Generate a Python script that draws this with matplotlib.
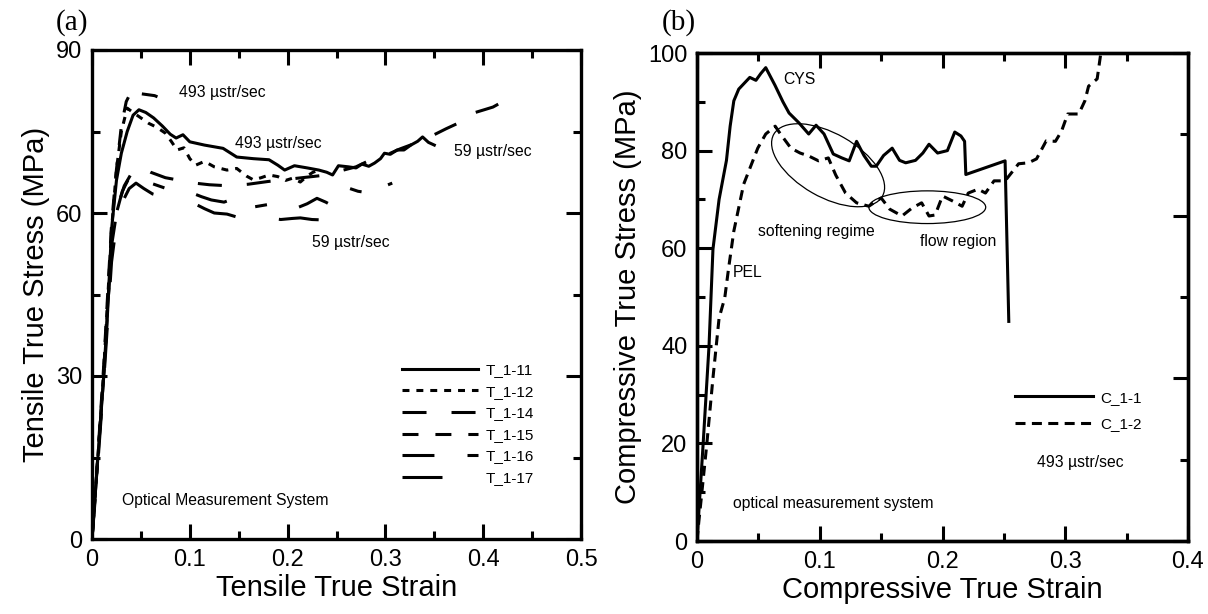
import matplotlib
matplotlib.use("Agg")
import matplotlib.pyplot as plt
from matplotlib.ticker import MultipleLocator, NullFormatter
from matplotlib.patches import Ellipse

plt.rcParams['font.family'] = ['Liberation Sans', 'DejaVu Sans']
plt.rcParams['lines.scale_dashes'] = False

# ---------------- Panel (a) data: tensile ----------------
t11_strain = [0, 0.004, 0.008, 0.012, 0.016, 0.020, 0.025, 0.030, 0.036, 0.042, 0.048, 0.055, 0.063,
              0.072, 0.080, 0.086, 0.093, 0.100, 0.115, 0.134, 0.148, 0.165, 0.181, 0.190, 0.197,
              0.207, 0.220, 0.232, 0.240, 0.246, 0.252, 0.262, 0.270, 0.276, 0.283, 0.289, 0.295,
              0.299, 0.305, 0.312, 0.319, 0.326, 0.333, 0.338, 0.344, 0.350]
t11_stress = [0, 10, 20, 30, 42, 57, 66, 71, 75, 78, 79, 78.5, 77.5,
              76, 74.5, 73.8, 74.4, 73.1, 72.5, 71.9, 70.3, 70.0, 69.8, 68.8, 67.9,
              68.7, 68.3, 67.9, 67.5, 67.0, 68.7, 68.5, 68.3, 69.0, 68.6, 69.2, 70.0,
              71.0, 70.8, 71.6, 71.6, 72.5, 73.2, 74.0, 73.0, 72.5]

t12_strain = [0, 0.004, 0.008, 0.012, 0.016, 0.020, 0.025, 0.030, 0.036, 0.042, 0.050, 0.058, 0.066,
              0.075, 0.081, 0.087, 0.094, 0.100, 0.106, 0.115, 0.125, 0.138, 0.148, 0.158, 0.165,
              0.173, 0.181, 0.190, 0.198, 0.205, 0.213, 0.220, 0.226, 0.232]
t12_stress = [0, 10, 20, 31, 44, 57, 68, 75, 79.3, 78.5, 77.5, 76.5, 75.8,
              74.7, 73.2, 71.6, 72.0, 70.0, 68.8, 69.5, 68.5, 67.9, 68.2, 66.8, 66.1,
              66.5, 67.0, 66.7, 66.0, 66.4, 65.7, 66.8, 67.5, 67.9]

t14_strain = [0, 0.004, 0.008, 0.012, 0.016, 0.020, 0.026, 0.033, 0.041, 0.050, 0.060, 0.075, 0.090,
              0.105, 0.120, 0.140, 0.160, 0.180, 0.200, 0.220, 0.240, 0.255, 0.270, 0.285, 0.300,
              0.315, 0.330, 0.345, 0.352, 0.362, 0.374, 0.378, 0.390, 0.401, 0.410, 0.417, 0.427, 0.437]
t14_stress = [0, 10, 20, 30, 42, 54, 61, 65, 67.5, 68.5, 67.5, 66.5, 66.0,
              65.5, 65.2, 65.0, 65.3, 65.8, 66.2, 66.6, 67.0, 67.8, 68.5, 69.8, 70.6,
              71.8, 72.8, 74.0, 74.6, 75.5, 76.5, 78.0, 78.4, 79.0, 79.5, 80.2, 80.6, 81.4]

t15_strain = [0, 0.004, 0.008, 0.012, 0.016, 0.020, 0.025, 0.030, 0.035, 0.040, 0.048, 0.056, 0.064,
              0.072, 0.079]
t15_stress = [0, 10, 21, 32, 45, 58, 68, 76, 80.5, 82.3, 82.0, 81.8, 81.6, 81.0, 80.5]

t16_strain = [0, 0.004, 0.008, 0.012, 0.016, 0.020, 0.025, 0.031, 0.038, 0.045, 0.052, 0.060, 0.068,
              0.076, 0.085, 0.093, 0.102, 0.112, 0.122, 0.135, 0.150, 0.158, 0.165, 0.178, 0.189,
              0.199, 0.209, 0.220, 0.230, 0.239, 0.248, 0.262, 0.272, 0.283, 0.291, 0.300, 0.307]
t16_stress = [0, 10, 20, 31, 43, 54, 60, 64, 66.5, 67.5, 66, 65.5, 65,
              64.5, 64.0, 63.5, 63.7, 63.0, 62.4, 62.0, 63.0, 61.5, 61.1, 61.5, 61.8,
              61.2, 60.9, 61.7, 62.7, 62.0, 61.1, 64.6, 64.0, 63.7, 65.7, 65.0, 65.5]

t17_strain = [0, 0.004, 0.008, 0.012, 0.016, 0.020, 0.025, 0.031, 0.038, 0.045, 0.053, 0.062, 0.072,
              0.082, 0.092, 0.104, 0.115, 0.125, 0.138, 0.153, 0.162, 0.170, 0.181, 0.193, 0.205,
              0.213, 0.225, 0.240]
t17_stress = [0, 9, 19, 29, 40, 51, 58, 62, 64.5, 65.5, 64.5, 63.5, 63.0,
              62.5, 62.0, 61.8, 60.8, 60.0, 59.8, 59.0, 59.5, 58.6, 59.1, 58.8, 59.0,
              59.1, 58.8, 58.7]

# ---------------- Panel (b) data: compressive ----------------
c11_strain = [0, 0.005, 0.0098, 0.013, 0.018, 0.024, 0.027, 0.030, 0.034, 0.040, 0.043, 0.048, 0.052,
              0.056, 0.0635, 0.070, 0.075, 0.083, 0.091, 0.097, 0.1035, 0.111, 0.118, 0.124, 0.130,
              0.136, 0.142, 0.146, 0.152, 0.159, 0.165, 0.170, 0.178, 0.184, 0.189, 0.196, 0.204,
              0.210, 0.215, 0.218, 0.219, 0.251, 0.254]
c11_stress = [0, 19.9, 40, 59.8, 70, 78, 85, 90.2, 92.6, 94.2, 95, 94.4, 95.8,
              97, 93.4, 90, 87.7, 85.7, 83.4, 85.2, 83.4, 79.3, 78.5, 77.9, 81.9,
              79, 76.8, 76.8, 79, 80.5, 78, 77.5, 78, 79.5, 81.3, 79.5, 80,
              83.8, 83, 81.9, 75.1, 77.9, 45]

c12_strain = [0, 0.0015, 0.003, 0.008, 0.013, 0.018, 0.0226, 0.0258, 0.030, 0.038, 0.0495, 0.056,
              0.0637, 0.068, 0.0765, 0.084, 0.091, 0.099, 0.107, 0.113, 0.121, 0.130, 0.140, 0.150,
              0.157, 0.167, 0.175, 0.183, 0.189, 0.194, 0.200, 0.208, 0.216, 0.221, 0.229, 0.235,
              0.242, 0.251, 0.262, 0.270, 0.2766, 0.2845, 0.292, 0.297, 0.302, 0.311, 0.316, 0.319,
              0.326, 0.329]
c12_stress = [0, 4, 7.6, 19.9, 33.4, 45.7, 49.8, 56, 63.5, 73.1, 80.5, 83.4,
              85, 83.4, 80.5, 79.5, 78.9, 77.9, 78.5, 75, 71.3, 69.3, 68.6, 70.3,
              68, 66.6, 68.2, 69.3, 66.6, 66.8, 70.7, 69.7, 68.6, 71.3, 72.1, 71.3,
              73.8, 73.8, 77.3, 77.5, 78.3, 82, 81.9, 84, 87.5, 87.5, 90.2, 93.2,
              94.7, 100]

a_labels = ['T_1-11', 'T_1-12', 'T_1-14', 'T_1-15', 'T_1-16', 'T_1-17']
b_labels = ['C_1-1', 'C_1-2']

LW = 2.2
a_styles = ['-', (0, (5, 5)), (0, (17.3, 18)), (0, (11.5, 12.2)),
            (0, (23, 23.8, 8.6, 23.8)), (0, (28.8, 33))]
b_styles = ['-', (0, (7.2, 4.6))]

fig = plt.figure(figsize=(12.08, 6.14), dpi=100)
axa = fig.add_axes([92/1208, 75/614, 489/1208, 489/614])
axb = fig.add_axes([697/1208, 73/614, 491/1208, 488/614])

def style_axis(ax, right=True):
    for s in ax.spines.values():
        s.set_linewidth(2.4)
    ax.tick_params(which='both', direction='in', top=True, right=right, width=2.2,
                   labelsize=17, pad=7)
    ax.tick_params(which='major', length=11)
    ax.tick_params(which='minor', length=6)

# ---- panel a
a_data = [(t11_strain, t11_stress), (t12_strain, t12_stress), (t14_strain, t14_stress),
          (t15_strain, t15_stress), (t16_strain, t16_stress), (t17_strain, t17_stress)]
for (x, y), lab, ls in zip(a_data, a_labels, a_styles):
    axa.plot(x, y, color='black', lw=LW, linestyle=ls, label=lab)
axa.set_xlim(0, 0.5)
axa.set_ylim(0, 90)
axa.xaxis.set_major_locator(MultipleLocator(0.1))
axa.xaxis.set_minor_locator(MultipleLocator(0.05))
axa.yaxis.set_major_locator(MultipleLocator(30))
axa.yaxis.set_minor_locator(MultipleLocator(15))
axa.xaxis.set_major_formatter(plt.FuncFormatter(lambda v, p: '0' if abs(v) < 1e-9 else f'{v:.1f}'))
style_axis(axa)
axa.set_xlabel('Tensile True Strain', fontsize=21, labelpad=2)
axa.set_ylabel('Tensile True Stress (MPa)', fontsize=21, labelpad=4)
axa.legend(loc='upper left', bbox_to_anchor=(0.634, 0.360), frameon=False, fontsize=11,
           handlelength=5.0, handletextpad=0.5, labelspacing=0.5, borderpad=0, borderaxespad=0)
fs = 11.3
axa.text(0.089, 82.1, '493 µstr/sec', fontsize=fs, va='center')
axa.text(0.146, 72.7, '493 µstr/sec', fontsize=fs, va='center')
axa.text(0.370, 71.3, '59 µstr/sec', fontsize=fs, va='center')
axa.text(0.2245, 54.5, '59 µstr/sec', fontsize=fs, va='center')
axa.text(0.031, 7.0, 'Optical Measurement System', fontsize=fs, va='center')

# ---- panel b
b_data = [(c11_strain, c11_stress), (c12_strain, c12_stress)]
for (x, y), lab, ls in zip(b_data, b_labels, b_styles):
    axb.plot(x, y, color='black', lw=LW, linestyle=ls, label=lab)
axb.set_xlim(0, 0.4)
axb.set_ylim(0, 100)
axb.xaxis.set_major_locator(MultipleLocator(0.1))
axb.xaxis.set_minor_locator(MultipleLocator(0.05))
axb.yaxis.set_major_locator(MultipleLocator(20))
axb.yaxis.set_minor_locator(MultipleLocator(10))
axb.xaxis.set_major_formatter(plt.FuncFormatter(lambda v, p: '0' if abs(v) < 1e-9 else f'{v:.1f}'))
style_axis(axb, right=False)
axb.set_xlabel('Compressive True Strain', fontsize=21, labelpad=2)
axb.set_ylabel('Compressive True Stress (MPa)', fontsize=21, labelpad=4)
tw = axb.twinx()
tw.set_ylim(0, 60)
tw.yaxis.set_major_locator(MultipleLocator(20))
tw.yaxis.set_minor_locator(MultipleLocator(10))
tw.yaxis.set_major_formatter(NullFormatter())
for s in tw.spines.values():
    s.set_linewidth(2.4)
tw.tick_params(which='both', direction='in', width=2.2)
tw.tick_params(which='major', length=11)
tw.tick_params(which='minor', length=6)

axb.legend(loc='upper left', bbox_to_anchor=(0.648, 0.308), frameon=False, fontsize=11,
           handlelength=5.1, handletextpad=0.5, labelspacing=0.8, borderpad=0, borderaxespad=0)
axb.text(0.070, 94.5, 'CYS', fontsize=fs, va='center')
axb.text(0.0497, 63.5, 'softening regime', fontsize=fs, va='center')
axb.text(0.1816, 61.3, 'flow region', fontsize=fs, va='center')
axb.text(0.029, 55, 'PEL', fontsize=fs, va='center')
axb.text(0.2766, 16, '493 µstr/sec', fontsize=fs, va='center')
axb.text(0.029, 7.6, 'optical measurement system', fontsize=fs, va='center')
axb.add_patch(Ellipse((0.267, 0.770), 0.255, 0.13, angle=-30, transform=axb.transAxes,
                      fill=False, lw=0.9, color='black'))
axb.add_patch(Ellipse((0.469, 0.684), 0.238, 0.067, angle=0, transform=axb.transAxes,
                      fill=False, lw=0.9, color='black'))

fig.text(56/1208, 1 - 23/614, '(a)', fontsize=21, family='Liberation Serif', va='center')
fig.text(662/1208, 1 - 23/614, '(b)', fontsize=21, family='Liberation Serif', va='center')

fig.savefig('out.png', dpi=100)
